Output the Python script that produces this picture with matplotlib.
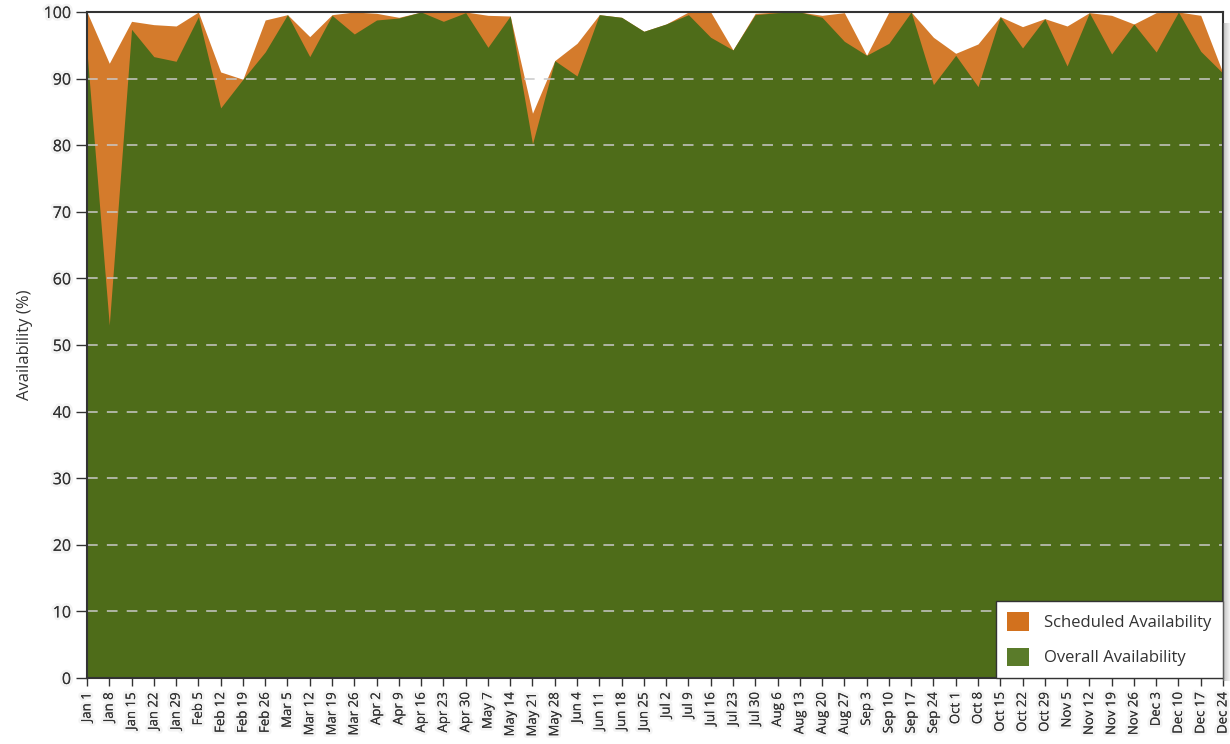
import matplotlib
matplotlib.use("Agg")
import matplotlib.pyplot as plt
import matplotlib.patheffects as pe
from matplotlib.patches import Patch
import numpy as np

weeks = ["Jan 1", "Jan 8", "Jan 15", "Jan 22", "Jan 29", "Feb 5", "Feb 12", "Feb 19", "Feb 26",
         "Mar 5", "Mar 12", "Mar 19", "Mar 26", "Apr 2", "Apr 9", "Apr 16", "Apr 23", "Apr 30",
         "May 7", "May 14", "May 21", "May 28", "Jun 4", "Jun 11", "Jun 18", "Jun 25", "Jul 2",
         "Jul 9", "Jul 16", "Jul 23", "Jul 30", "Aug 6", "Aug 13", "Aug 20", "Aug 27", "Sep 3",
         "Sep 10", "Sep 17", "Sep 24", "Oct 1", "Oct 8", "Oct 15", "Oct 22", "Oct 29", "Nov 5",
         "Nov 12", "Nov 19", "Nov 26", "Dec 3", "Dec 10", "Dec 17", "Dec 24"]

scheduled = [100, 92.3, 98.6, 98.1, 97.9, 100, 91.0, 89.9, 98.8, 99.6, 96.3, 99.6, 100,
             99.8, 99.2, 100, 100, 100, 99.5, 99.4, 84.8, 92.7, 95.3, 99.6, 99.2, 97.1, 98.2,
             100, 100, 94.3, 99.8, 100, 100, 99.5, 99.9, 93.5, 100, 100, 96.2, 93.8, 95.2,
             99.3, 97.8, 99.0, 97.9, 99.9, 99.5, 98.2, 99.9, 100, 99.5, 90.8]

overall = [94.0, 53.0, 97.4, 93.3, 92.6, 99.3, 85.6, 89.9, 94.0, 99.6, 93.3, 99.5, 96.7,
           98.8, 99.1, 100, 98.6, 99.9, 94.7, 99.4, 80.2, 92.7, 90.4, 99.6, 99.2, 97.1, 98.2,
           99.6, 96.2, 94.3, 99.6, 99.9, 100, 99.2, 95.6, 93.5, 95.3, 100, 89.1, 93.5, 88.8,
           99.3, 94.6, 99.0, 91.9, 99.9, 93.7, 98.2, 94.0, 100, 94.1, 90.8]

orange = "#D47B2C"
green = "#4E6C19"

fig = plt.figure(figsize=(12.3, 7.44), dpi=100)
ax = fig.add_axes([87 / 1230, 1 - 678 / 744, (1223 - 87) / 1230, (678 - 12) / 744])

x = np.arange(len(weeks))
ax.fill_between(x, 0, scheduled, color=orange, linewidth=0, zorder=2)
ax.fill_between(x, 0, overall, color=green, linewidth=0, zorder=3)

ax.set_xlim(0, len(weeks) - 1)
ax.set_ylim(0, 100)
ax.set_yticks(range(0, 101, 10))
for v in range(10, 100, 10):
    ax.axhline(v, color="#c9c9c9", linewidth=1.1, dashes=(7, 6), zorder=4)

txt_fx = [pe.withStroke(linewidth=4, foreground="#ececec", alpha=0.6), pe.Normal()]

ax.set_xticks(x)
ax.set_xticklabels(weeks, rotation=90, fontsize=9.5, family="Open Sans", color="#333333")
ax.tick_params(axis="x", length=6, width=1, color="#333333", pad=4)
ax.tick_params(axis="y", length=8, width=1, color="#333333", labelsize=11.5, labelcolor="#333333")
for lab in ax.get_yticklabels():
    lab.set_family("Open Sans")
for lab in ax.get_xticklabels() + ax.get_yticklabels():
    lab.set_path_effects(txt_fx)
ax.set_ylabel("Availability (%)", fontsize=12, family="Open Sans", color="#333333", labelpad=8)

for s in ax.spines.values():
    s.set_color("#333333")
    s.set_linewidth(1.5)
    s.set_zorder(6)

# drop shadow on the right of the frame
for k in range(8):
    fig.patches.append(plt.Rectangle((1223 / 1230 + k * 0.0008, 1 - 678 / 744 - 0.004),
                                     0.0008, (678 - 20) / 744, transform=fig.transFigure,
                                     color="#888888", alpha=0.5 * (1 - k / 8), lw=0, zorder=0))

handles = [Patch(facecolor="#D2711E", edgecolor="none", label="Scheduled Availability"),
           Patch(facecolor="#5A7B2A", edgecolor="none", label="Overall Availability")]
leg = ax.legend(handles=handles, loc="lower right", bbox_to_anchor=(1.0, 0.0),
                prop={"family": "Open Sans", "size": 12}, frameon=True, fancybox=False,
                framealpha=1.0, facecolor="white",
                borderaxespad=0, handlelength=1.3, handleheight=1.3, handletextpad=0.9,
                borderpad=0.7, labelspacing=1.0)
leg.get_frame().set_edgecolor("#333333")
leg.get_frame().set_linewidth(1.0)
leg.set_zorder(10)
for t in leg.get_texts():
    t.set_color("#333333")

fig.savefig("out.png", dpi=100)
